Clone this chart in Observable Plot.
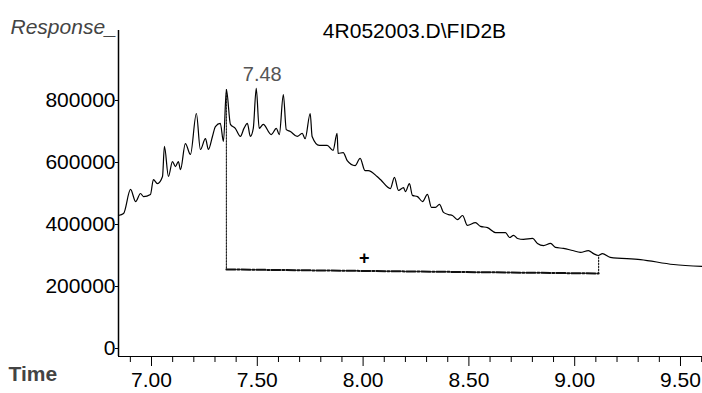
<!DOCTYPE html>
<html>
<head>
<meta charset="utf-8">
<script src="https://cdn.jsdelivr.net/npm/d3@7"></script>
<script src="https://cdn.jsdelivr.net/npm/@observablehq/plot@0.6"></script>
<style>
  html, body { margin: 0; padding: 0; background: #fff; }
  #chart svg { display: block; }
</style>
</head>
<body>
<div id="chart"></div>
<script>
// Chromatogram signal: retention time (min) and detector response
const times = [6.844, 6.868, 6.901, 6.925, 6.948, 6.962, 6.995, 7.009, 7.028, 7.052, 7.061, 7.080, 7.099, 7.113, 7.127, 7.137, 7.160, 7.184, 7.212, 7.231, 7.255, 7.269, 7.288, 7.302, 7.325, 7.340, 7.354, 7.373, 7.396, 7.420, 7.437, 7.453, 7.467, 7.481, 7.495, 7.509, 7.528, 7.566, 7.590, 7.604, 7.623, 7.637, 7.656, 7.689, 7.712, 7.726, 7.750, 7.759, 7.793, 7.830, 7.858, 7.877, 7.882, 7.906, 7.925, 7.962, 7.986, 8.009, 8.024, 8.066, 8.082, 8.129, 8.148, 8.167, 8.191, 8.200, 8.219, 8.233, 8.257, 8.281, 8.304, 8.323, 8.342, 8.361, 8.380, 8.404, 8.422, 8.446, 8.470, 8.493, 8.531, 8.555, 8.588, 8.626, 8.673, 8.692, 8.711, 8.730, 8.758, 8.801, 8.824, 8.853, 8.886, 8.909, 8.947, 8.990, 9.027, 9.065, 9.089, 9.112, 9.131, 9.168, 9.311, 9.467, 9.604];
const responses = [429000, 435500, 513000, 474000, 500000, 490000, 497000, 545000, 532000, 555000, 652000, 555000, 603000, 587000, 603000, 577000, 661000, 626000, 758000, 642000, 677000, 642000, 684000, 716000, 726000, 668000, 835000, 723000, 710000, 684000, 710000, 726000, 684000, 710000, 839000, 710000, 723000, 690000, 710000, 690000, 819000, 706000, 700000, 684000, 694000, 677000, 758000, 684000, 655000, 655000, 639000, 694000, 629000, 632000, 606000, 590000, 613000, 574000, 574000, 555000, 545000, 516000, 552000, 510000, 519000, 506000, 532000, 494000, 490000, 474000, 497000, 455000, 455000, 465000, 439000, 432000, 429000, 416000, 429000, 397000, 406000, 394000, 390000, 374000, 374000, 358000, 365000, 355000, 352000, 355000, 339000, 332000, 339000, 326000, 323000, 316000, 310000, 316000, 306000, 300000, 306000, 294000, 287000, 271000, 265000];

// Integration baseline: start drop line, baseline, end drop line
const dropStartTime = 7.354;
const dropStartTop = 835000;
const baseStartValue = 255000;
const dropEndTime = 9.113;
const dropEndTop = 300000;
const baseEndValue = 242000;

// Peak annotation
const peakTime = 7.495;
const peakValue = 839000;
const peakLabel = "7.48";
const markTime = 8.005;
const markValue = 290000;

// Axes
const yTicks = [0, 200000, 400000, 600000, 800000];
const xTicks = [7.0, 7.5, 8.0, 8.5, 9.0, 9.5];
const xMinorTicks = [6.9, 7.1, 7.2, 7.3, 7.4, 7.6, 7.7, 7.8, 7.9, 8.1, 8.2, 8.3, 8.4, 8.6, 8.7, 8.8, 8.9, 9.1, 9.2, 9.3, 9.4, 9.6];
const xDomain = [6.844, 9.604];
const yDomain = [-25806, 1025806];

const title = "4R052003.D\\FID2B";
const yTitle = "Response_";
const xTitle = "Time";

const signal = times.map((t, i) => ({t, v: responses[i]}));
const leftDrop = [{t: dropStartTime, v: dropStartTop}, {t: dropStartTime, v: baseStartValue}];
const baseLine = [{t: dropStartTime, v: baseStartValue}, {t: dropEndTime, v: baseEndValue}];
const rightDrop = [{t: dropEndTime, v: baseEndValue}, {t: dropEndTime, v: dropEndTop}];

const FONT = "'Liberation Sans', Arial, Helvetica, sans-serif";

const chart = Plot.plot({
  width: 702,
  height: 393,
  marginLeft: 118,
  marginRight: 0,
  marginTop: 30,
  marginBottom: 37,
  style: {fontFamily: FONT, fontSize: "21px", color: "#000", background: "#fff"},
  x: {domain: xDomain},
  y: {domain: yDomain},
  marks: [
    Plot.ruleX([xDomain[0]], {stroke: "#000", strokeWidth: 1.5}),
    Plot.ruleY([yDomain[0]], {stroke: "#000", strokeWidth: 1}),
    Plot.axisY({ticks: yTicks, tickFormat: d => String(d), tickSize: 3, tickPadding: 0, fontSize: 21, label: null}),
    Plot.axisX({ticks: xMinorTicks, tickFormat: () => "", tickSize: 6, label: null}),
    Plot.axisX({ticks: xTicks, tickFormat: d => d.toFixed(2), tickSize: 10, tickPadding: 6, fontSize: 21, label: null}),
    Plot.line(leftDrop, {x: "t", y: "v", stroke: "#222", strokeWidth: 1.2, strokeDasharray: "1.5,1.5"}),
    Plot.line(rightDrop, {x: "t", y: "v", stroke: "#222", strokeWidth: 1.2, strokeDasharray: "1.5,1.5"}),
    Plot.line(baseLine, {x: "t", y: "v", stroke: "#111", strokeWidth: 2, strokeDasharray: "9,2,2,2"}),
    Plot.line(signal, {x: "t", y: "v", stroke: "#000", strokeWidth: 1.2, curve: "monotone-x"}),
    Plot.text([peakLabel], {x: peakTime, y: peakValue, text: d => d, dy: -14, dx: 6, fill: "#555", fontSize: 20}),
    Plot.text(["+"], {x: markTime, y: markValue, text: d => d, fill: "#000", fontSize: 18, fontWeight: "bold"}),
    Plot.text([title], {frameAnchor: "top-left", dx: 296, dy: -7, text: d => d, textAnchor: "middle", fontSize: 21}),
    Plot.text([yTitle], {frameAnchor: "top-left", dx: -108, dy: -11, text: d => d, textAnchor: "start", fontSize: 21, fontStyle: "italic", fill: "#444"}),
    Plot.text([xTitle], {frameAnchor: "bottom-left", dx: -110, dy: 24, text: d => d, textAnchor: "start", fontSize: 21, fontWeight: "bold", fill: "#444"})
  ]
});

document.getElementById("chart").appendChild(chart);
</script>
</body>
</html>
